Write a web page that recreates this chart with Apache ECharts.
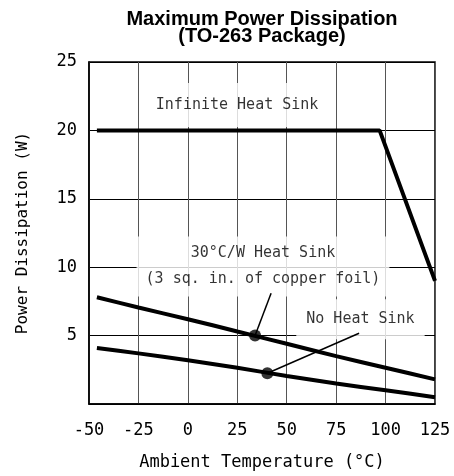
<!DOCTYPE html>
<html>
<head>
<meta charset="utf-8">
<script src="https://cdn.jsdelivr.net/npm/echarts@6/dist/echarts.min.js"></script>
<style>
  html, body { margin: 0; padding: 0; background: #fff; }
  #chart { width: 454px; height: 476px; }
</style>
</head>
<body>
<div id="chart"></div>
<script>
// values
const temps = [-46, -25, 0, 25, 50, 75, 100, 125]
const heatSink30 = [7.8, 7.05, 6.2, 5.3, 4.4, 3.5, 2.65, 1.8]
const noHeatSink = [4.1, 3.7, 3.2, 2.65, 2.05, 1.5, 1.0, 0.5]
const infiniteTemps = [-46, 97, 125]
const infiniteValues = [20, 20, 9]

// callout dots and leader line ends
const dot30 = [34, 5.0]
const lead30 = [42.1, 8.1]
const dotNone = [40.2, 2.25]
const leadNone = [86.6, 5.17]

const labelMono = '"DejaVu Sans Mono", monospace'

const pairs = (xs, ys) => xs.map((x, i) => [x, ys[i]])

const chart = echarts.init(document.getElementById('chart'))

chart.setOption({
  animation: false,
  title: {
    text: 'Maximum Power Dissipation\n(TO-263 Package)',
    left: 257,
    top: 6,
    textAlign: 'center',
    textStyle: {
      fontFamily: '"Liberation Sans", Arial, sans-serif',
      fontWeight: 'bold',
      fontSize: 20,
      lineHeight: 17,
      color: '#000',
    },
  },
  grid: {
    left: 89, right: 19, top: 62, bottom: 70,
    show: true, borderColor: '#000', borderWidth: 1.5,
  },
  xAxis: {
    type: 'value',
    min: -50, max: 125, interval: 25,
    name: 'Ambient Temperature (°C)',
    nameLocation: 'middle',
    nameGap: 50,
    nameTextStyle: { fontFamily: labelMono, fontSize: 17, color: '#000' },
    axisLine: { lineStyle: { color: '#000', width: 1.5 } },
    axisTick: { show: false },
    axisLabel: { fontFamily: labelMono, fontSize: 17, color: '#000', margin: 18 },
    splitLine: { show: true, lineStyle: { color: '#555', width: 1 } },
  },
  yAxis: {
    type: 'value',
    min: 0, max: 25, interval: 5,
    name: 'Power Dissipation (W)',
    nameLocation: 'middle',
    nameGap: 58,
    nameTextStyle: { fontFamily: labelMono, fontSize: 16, color: '#000' },
    axisLine: { onZero: false, lineStyle: { color: '#000', width: 1.5 } },
    axisTick: { show: false },
    axisLabel: {
      fontFamily: labelMono, fontSize: 17, color: '#000', margin: 12,
      formatter: (v) => (v === 0 ? '' : v),
    },
    splitLine: { show: true, lineStyle: { color: '#000', width: 1 } },
  },
  series: [
    {
      type: 'line',
      data: pairs(infiniteTemps, infiniteValues),
      symbol: 'none',
      lineStyle: { color: '#000', width: 4 },
      z: 3,
    },
    {
      type: 'line',
      data: pairs(temps, heatSink30),
      symbol: 'none',
      smooth: 0.2,
      lineStyle: { color: '#000', width: 4 },
      z: 3,
    },
    {
      type: 'line',
      data: pairs(temps, noHeatSink),
      symbol: 'none',
      smooth: 0.2,
      lineStyle: { color: '#000', width: 4 },
      z: 3,
    },
    // leader lines
    {
      type: 'line',
      data: [dot30, lead30],
      symbol: 'none',
      lineStyle: { color: '#000', width: 1.5 },
      z: 4,
    },
    {
      type: 'line',
      data: [dotNone, leadNone],
      symbol: 'none',
      lineStyle: { color: '#000', width: 1.5 },
      z: 4,
    },
    // dots
    {
      type: 'scatter',
      data: [dot30, dotNone],
      symbolSize: 12,
      itemStyle: { color: '#000' },
      z: 5,
    },
    // curve labels with white boxes
    {
      type: 'scatter',
      symbolSize: 0,
      z: 2,
      data: [
        { value: [24.9, 21.85], text: 'Infinite Heat Sink', pad: [10, 8, 8, 8] },
        { value: [38.0, 10.05], text: '30°C/W Heat Sink\n(3 sq. in. of copper foil)', pad: [5, 9, 3, 9] },
        { value: [87.3, 6.2], text: 'No Heat Sink', pad: [8, 10, 6, 10] },
      ].map((d) => ({
        value: d.value,
        label: {
          show: true,
          position: 'inside',
          formatter: d.text,
          fontFamily: labelMono,
          fontSize: 15,
          lineHeight: 26,
          color: '#000',
          backgroundColor: '#fff',
          padding: d.pad,
          align: 'center',
        },
      })),
    },
  ],
})
</script>
</body>
</html>
